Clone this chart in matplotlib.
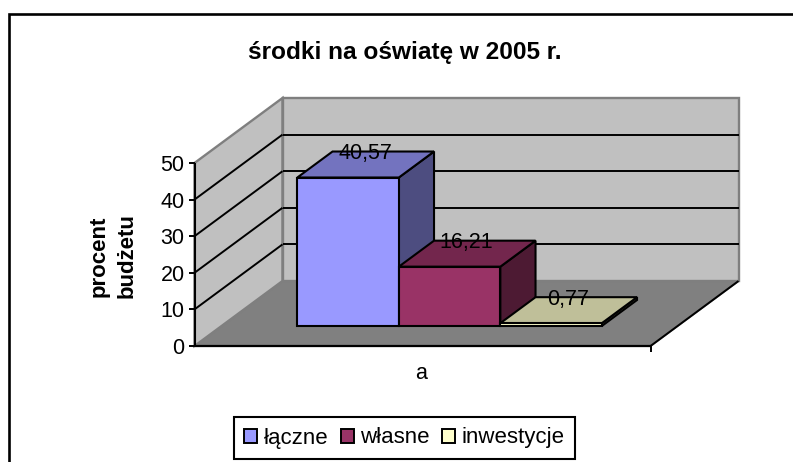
import matplotlib
matplotlib.use("Agg")
import matplotlib.pyplot as plt
from matplotlib.patches import Polygon, Patch

plt.rcParams['font.family'] = ['Liberation Sans', 'DejaVu Sans']

# ---- data ----
title = "środki na oświatę w 2005 r."
category = "a"
series_names = ["łączne", "własne", "inwestycje"]
series_values = [40.57, 16.21, 0.77]
value_labels = ["40,57", "16,21", "0,77"]
y_ticks = [0, 10, 20, 30, 40, 50]
y_label = "procent\nbudżetu"

# ---- styles ----
front_colors = ["#9999FF", "#993366", "#FFFFCC"]
top_colors = ["#7373BF", "#73264D", "#BFBF99"]
side_colors = ["#4D4D80", "#4D1A33", "#808066"]
WALL = "#C0C0C0"
FLOOR = "#808080"
EDGE = "#7F7F7F"
FS = 15.5

# ---- oblique projection (pixels of the 793x462 figure) ----
X0, Y0 = 194.5, 346.0      # front-left corner of the floor
W = 456.0                  # category axis length
DX, DY = 88.0, -65.0       # depth vector
PX_PER_UNIT = 183.0 / 50.0
YMAX = y_ticks[-1]


def P(u, v, z):
    """u: 0..1 along category axis, v: 0..1 depth, z: value."""
    return (X0 + u * W + v * DX, Y0 + v * DY - z * PX_PER_UNIT)


fig = plt.figure(figsize=(7.93, 4.62), dpi=100, facecolor="white")
ax = fig.add_axes([0, 0, 1, 1])
ax.set_xlim(0, 793)
ax.set_ylim(462, 0)
ax.axis("off")

LW = 1.5


def poly(pts, fc, ec="black", lw=LW, z=2):
    ax.add_patch(Polygon(pts, closed=True, facecolor=fc, edgecolor=ec,
                         linewidth=lw, joinstyle="miter", zorder=z))


def line(a, b, color="black", lw=LW, z=3):
    ax.plot([a[0], b[0]], [a[1], b[1]], color=color, lw=lw, zorder=z,
            solid_capstyle="butt")


# chart area frame: only left and top are inside the image
ax.plot([8.5, 8.5, 793], [462, 13.5, 13.5], color="black", lw=1.9, zorder=1,
        solid_joinstyle="miter")

# walls and floor
poly([P(0, 0, 0), P(1, 0, 0), P(1, 1, 0), P(0, 1, 0)], FLOOR, ec=FLOOR, z=1.5)
poly([P(0, 0, 0), P(0, 1, 0), P(0, 1, YMAX), P(0, 0, YMAX)], WALL, ec=EDGE, lw=1.7, z=1.6)
poly([P(0, 1, 0), P(1, 1, 0), P(1, 1, YMAX), P(0, 1, YMAX)], WALL, ec=EDGE, lw=1.7, z=1.6)

# gridlines
for t in y_ticks[1:-1]:
    line(P(0, 0, t), P(0, 1, t), lw=1.4, z=1.8)
    line(P(0, 1, t), P(1, 1, t), lw=1.4, z=1.8)

# axes lines, ticks and tick labels
line(P(0, 0, 0), P(0, 0, YMAX), lw=1.5, z=1.9)
line(P(0, 0, 0), P(1, 0, 0), lw=1.6, z=1.9)
line(P(1, 0, 0), P(1, 1, 0), lw=1.4, z=1.9)
x_c, y_c = P(1, 0, 0)
line((x_c, y_c), (x_c, y_c + 6), lw=1.4, z=1.9)
for t in y_ticks:
    x, y = P(0, 0, t)
    line((x - 6, y), (x, y), lw=1.4, z=1.9)
    ax.text(x - 10, y, str(t), ha="right", va="center_baseline", fontsize=FS, color="black")

# bars
BAR_W = 101.5 / W
GAP = (1 - BAR_W * len(series_values)) / 2
V0, V1 = 20.0 / 65.0, 46.0 / 65.0
for i, val in enumerate(series_values):
    u0 = GAP + i * BAR_W
    u1 = u0 + BAR_W
    z = 3 + i * 0.1
    poly([P(u1, V0, 0), P(u1, V1, 0), P(u1, V1, val), P(u1, V0, val)], side_colors[i], z=z)
    poly([P(u0, V0, val), P(u1, V0, val), P(u1, V1, val), P(u0, V1, val)], top_colors[i], z=z)
    poly([P(u0, V0, 0), P(u1, V0, 0), P(u1, V0, val), P(u0, V0, val)], front_colors[i], z=z)
    cx, cy = P((u0 + u1) / 2, (V0 + V1) / 2, val)
    ax.annotate(value_labels[i], (cx, cy), xytext=(-0.5, 9.5), textcoords="offset points",
                ha="center", va="center_baseline", fontsize=FS, color="black", zorder=5)

# texts
ax.text(405, 50.5, title, ha="center", va="center_baseline", fontsize=17.6,
        fontweight="bold", color="black")
ax.text(421, 371, category, ha="center", va="center_baseline", fontsize=FS, color="black")
ax.text(113, 256, y_label, ha="center", va="center", rotation=90, fontsize=16,
        fontweight="bold", color="black", linespacing=1.42, multialignment="center")

# legend
handles = [Patch(facecolor=c, edgecolor="black", linewidth=1.4) for c in front_colors]
leg = ax.legend(handles, series_names, loc="center", bbox_to_anchor=(404.5, 438),
                bbox_transform=ax.transData, ncols=3, fancybox=False, framealpha=1,
                edgecolor="black", fontsize=16, handlelength=0.58, handleheight=0.6,
                handletextpad=0.3, columnspacing=0.55, borderpad=0.48, borderaxespad=0,
                labelcolor="black")
leg.get_frame().set_linewidth(1.5)
leg.get_texts()[0].set_y(-0.5)
leg.get_texts()[1].set_y(0.5)

fig.savefig("out.png", dpi=100, facecolor="white")
